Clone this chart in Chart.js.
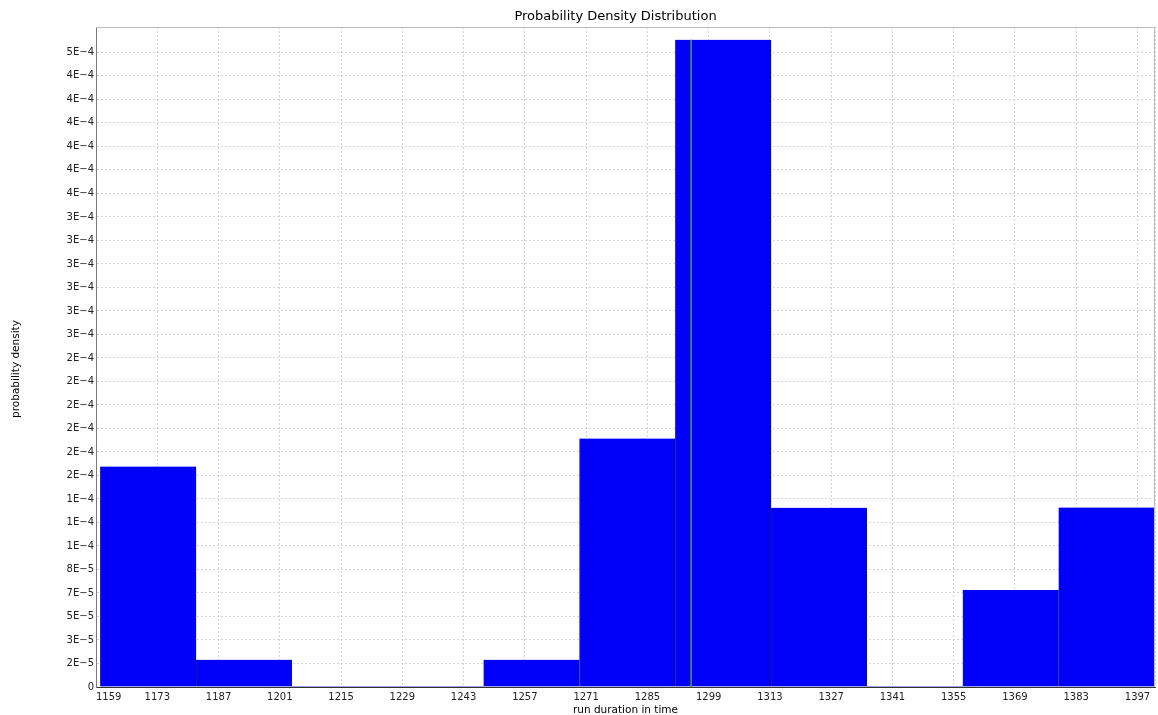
<!DOCTYPE html>
<html>
<head>
<meta charset="utf-8">
<title>Probability Density Distribution</title>
<script src="https://cdn.jsdelivr.net/npm/chart.js@4.4.1/dist/chart.umd.min.js"></script>
<style>
  html, body { margin: 0; padding: 0; background: #ffffff; }
  canvas { display: block; }
</style>
</head>
<body>
<canvas id="chart" width="1158" height="715"></canvas>
<script>
// Histogram bins: lower edge of the first bin and the common bin width (run duration units)
const binStart = 1160;
const binWidth = 21.9;
// Probability density of each bin
const densities = [1.563e-4, 1.93e-5, 0, 0, 1.93e-5, 1.762e-4, 4.589e-4, 1.271e-4, 0, 6.88e-5, 1.273e-4];
// Vertical marker position on the run duration axis
const markerValue = 1295;

// Axis ranges
const xMin = 1159;
const xMax = 1401;
const yMax = 4.68e-4;

// Tick labels
const xTickLabels = ['1159', '1173', '1187', '1201', '1215', '1229', '1243', '1257', '1271',
  '1285', '1299', '1313', '1327', '1341', '1355', '1369', '1383', '1397'];
const yTickStep = 1 / 60000;
const yTickLabels = ['0', '2E\u22125', '3E\u22125', '5E\u22125', '7E\u22125', '8E\u22125',
  '1E\u22124', '1E\u22124', '1E\u22124',
  '2E\u22124', '2E\u22124', '2E\u22124', '2E\u22124', '2E\u22124', '2E\u22124',
  '3E\u22124', '3E\u22124', '3E\u22124', '3E\u22124', '3E\u22124', '3E\u22124',
  '4E\u22124', '4E\u22124', '4E\u22124', '4E\u22124', '4E\u22124', '4E\u22124',
  '5E\u22124'];

const yAxisTitle = 'probability density';
const FONT = 'DejaVu Sans';

const barPoints = densities.map((d, i) => ({ x: binStart + (i + 0.5) * binWidth, y: d }));
const markerPoints = [{ x: markerValue, y: 0 }, { x: markerValue, y: Math.max(...densities) }];

// Solid light frame along the top and right edges of the plot
const plotFrame = {
  id: 'plotFrame',
  afterDatasetsDraw(chart) {
    const { ctx, chartArea: a } = chart;
    ctx.save();
    ctx.strokeStyle = '#bdbdbd';
    ctx.lineWidth = 1;
    ctx.beginPath();
    ctx.moveTo(a.left, Math.round(a.top) + 0.5);
    ctx.lineTo(Math.round(a.right) - 0.5, Math.round(a.top) + 0.5);
    ctx.lineTo(Math.round(a.right) - 0.5, a.bottom);
    ctx.stroke();
    ctx.restore();
  }
};

// Center the chart title over the plot rather than the whole canvas
const titleOverPlot = {
  id: 'titleOverPlot',
  afterLayout(chart) {
    const t = chart.titleBlock, a = chart.chartArea;
    if (!t) return;
    t.left = a.left - 20;
    t.right = a.right;
    t.width = t.right - t.left;
  }
};

// Rotated y-axis caption, set slightly below the middle of the value axis
const yCaption = {
  id: 'yCaption',
  afterDraw(chart) {
    const { ctx, chartArea: a } = chart;
    ctx.save();
    ctx.translate(16, (a.top + a.bottom) / 2 + 12);
    ctx.rotate(-Math.PI / 2);
    ctx.font = '10.5px "' + FONT + '"';
    ctx.fillStyle = '#000000';
    ctx.textAlign = 'center';
    ctx.textBaseline = 'middle';
    ctx.fillText(yAxisTitle, 0, 0);
    ctx.restore();
  }
};

new Chart(document.getElementById('chart'), {
  type: 'bar',
  data: {
    datasets: [
      {
        type: 'line',
        label: 'marker',
        data: markerPoints,
        borderColor: '#4a9d4a',
        borderWidth: 1.5,
        pointRadius: 0,
        fill: false,
        order: 0
      },
      {
        type: 'bar',
        label: 'density',
        data: barPoints,
        backgroundColor: '#0000fa',
        borderColor: '#1c1c78',
        borderWidth: { left: 1, top: 0, right: 0, bottom: 0 },
        borderSkipped: false,
        barThickness: 'flex',
        categoryPercentage: 1,
        barPercentage: 1,
        minBarLength: 1,
        order: 1
      }
    ]
  },
  options: {
    responsive: false,
    animation: false,
    devicePixelRatio: 1,
    layout: { padding: { left: 0, right: 0, top: 0, bottom: 0 } },
    plugins: {
      legend: { display: false },
      tooltip: { enabled: false },
      title: {
        display: true,
        text: 'Probability Density Distribution',
        color: '#000000',
        font: { family: FONT, size: 13, weight: 'normal' },
        padding: { top: 9, bottom: 2.4 }
      }
    },
    scales: {
      x: {
        type: 'linear',
        min: xMin,
        max: xMax,
        offset: false,
        afterBuildTicks: s => {
          s.ticks = xTickLabels.map(l => ({ value: Number(l) }));
          s.ticks.push({ value: xMax });
        },
        afterFit: s => { s.height = 28; },
        ticks: {
          autoSkip: false,
          maxRotation: 0,
          minRotation: 0,
          align: 'inner',
          padding: 3,
          color: '#222222',
          font: { family: FONT, size: 10 },
          callback: (v, i) => (i < xTickLabels.length ? xTickLabels[i] : '')
        },
        grid: {
          color: '#d4d4d4',
          lineWidth: 1,
          drawTicks: true,
          tickLength: 1,
          tickColor: 'rgba(0,0,0,0)',
          offset: false
        },
        border: { color: '#333333', width: 1, dash: [2, 2] },
        title: {
          display: true,
          text: 'run duration in time',
          color: '#000000',
          font: { family: FONT, size: 10.5 },
          padding: { top: 0, bottom: -1.5 }
        }
      },
      y: {
        type: 'linear',
        min: 0,
        max: yMax,
        afterBuildTicks: s => {
          s.ticks = yTickLabels.map((_, i) => ({ value: i * yTickStep }));
        },
        afterFit: s => { s.width = 96; },
        ticks: {
          autoSkip: false,
          padding: 2,
          color: '#222222',
          font: { family: FONT, size: 10 },
          callback: (v, i) => yTickLabels[i]
        },
        grid: {
          color: '#d4d4d4',
          lineWidth: 1,
          drawTicks: false
        },
        border: { color: '#7a7a7a', width: 1, dash: [2, 2] },
        title: { display: false }
      }
    }
  },
  plugins: [plotFrame, titleOverPlot, yCaption]
});
</script>
</body>
</html>
